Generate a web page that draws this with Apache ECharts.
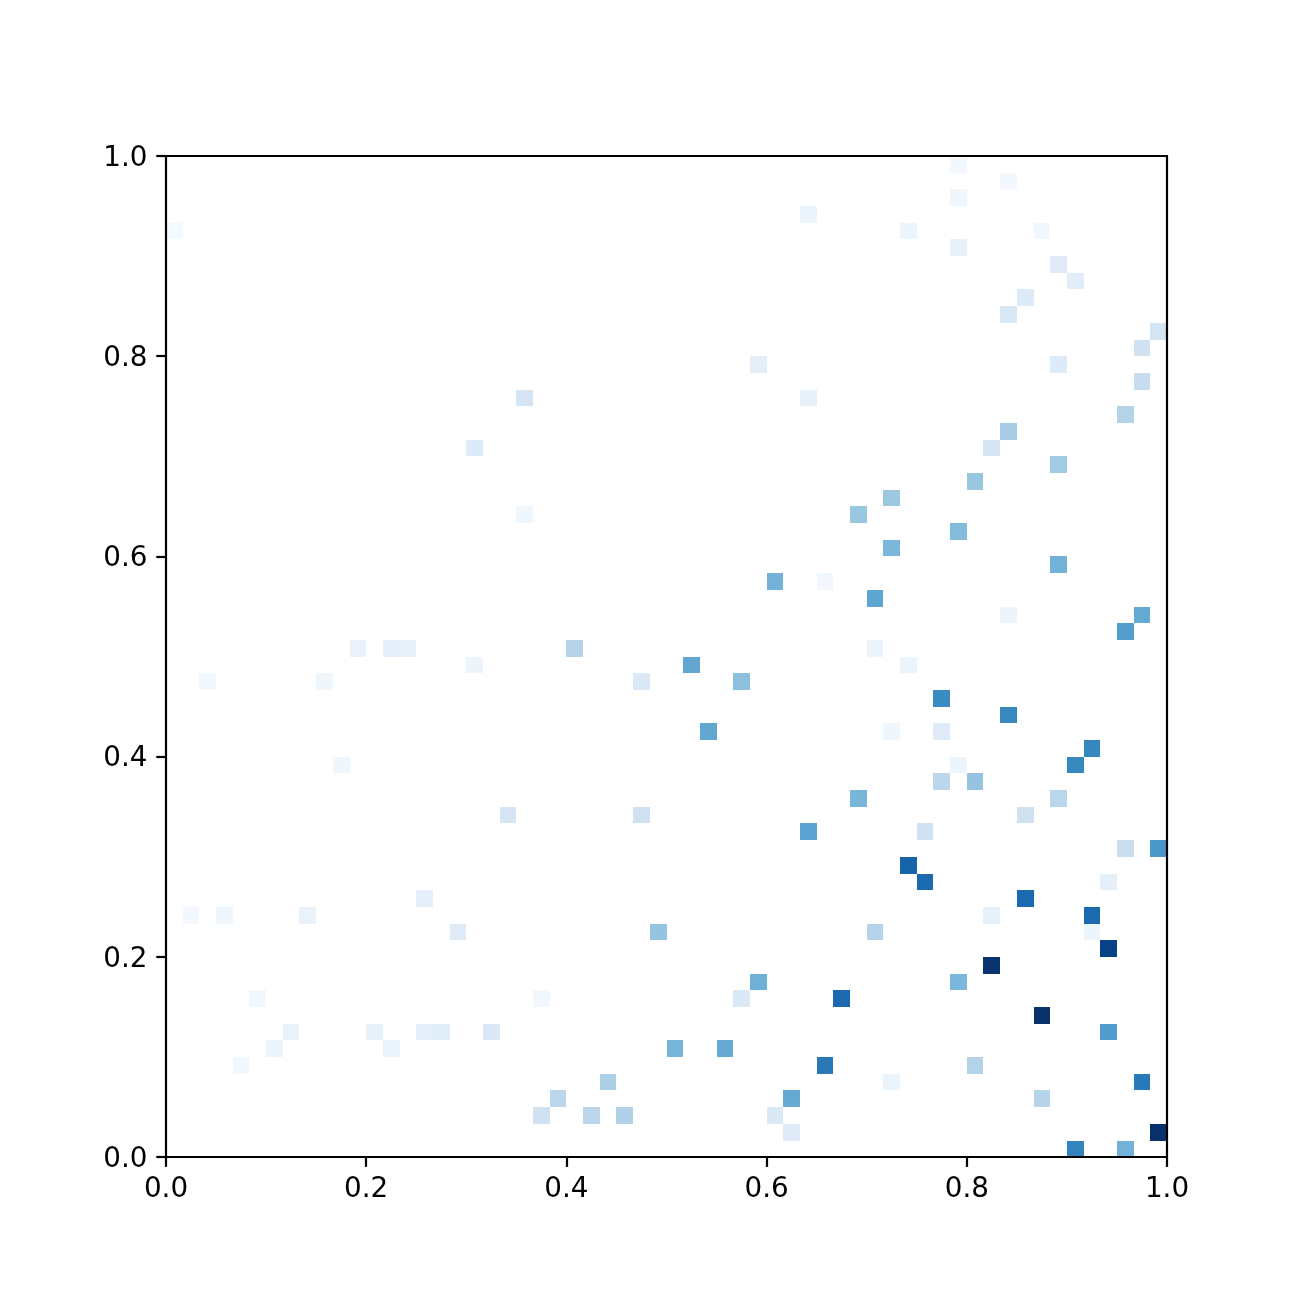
<!DOCTYPE html>
<html>
<head>
<meta charset="utf-8">
<title>2D histogram</title>
<script src="https://cdn.jsdelivr.net/npm/echarts@6/dist/echarts.min.js"></script>
<style>
html, body { margin: 0; padding: 0; background: #fff; }
#chart { width: 1300px; height: 1300px; }
</style>
</head>
<body>
<div id="chart"></div>
<script>
// histogram bins on a 60 x 60 grid, listed top to bottom
const binCount = 60;
const binCols = [0,47,50,47,38,44,52,47,53,54,51,50,59,58,35,53,58,21,38,57,50,18,49,53,48,43,21,41,47,43,53,36,39,42,50,58,57,
    11,13,14,24,42,18,31,44,2,9,28,34,46,50,32,43,46,55,10,47,54,46,48,41,53,20,28,51,38,45,57,59,44,45,56,15,51,
    1,3,8,49,55,17,29,42,55,56,49,35,47,5,22,34,40,52,7,12,15,16,19,56,6,13,30,33,4,39,48,26,43,58,23,37,52,22,25,27,36,37,59,54,57];
const binRows = [55,59,58,57,56,55,55,54,53,52,51,50,49,48,47,47,46,45,45,44,43,42,42,41,40,39,38,38,37,36,35,34,34,33,32,32,31,
    30,30,30,30,30,29,29,29,28,28,28,28,27,26,25,25,25,24,23,23,23,22,22,21,21,20,20,20,19,19,18,18,17,16,16,15,15,
    14,14,14,14,14,13,13,13,13,12,11,10,10,9,9,9,9,8,7,7,7,7,7,7,6,6,6,6,5,5,5,4,4,4,3,3,3,2,2,2,2,1,1,0,0];
const binValues = [.01,.02,.02,.04,.06,.05,.03,.08,.12,.11,.13,.15,.18,.2,.1,.13,.24,.17,.08,.31,.35,.13,.17,.37,.39,.38,.04,.39,.44,.46,.48,.48,.03,.54,.05,.52,.57,
    .07,.09,.08,.3,.05,.05,.53,.06,.02,.04,.14,.42,.65,.66,.53,.04,.12,.67,.04,.05,.66,.28,.4,.47,.29,.17,.21,.2,.55,.2,.23,.6,.8,.78,.09,.09,.78,
    .02,.04,.07,.08,.78,.12,.4,.3,.05,.93,.99,.49,.46,.03,.03,.14,.78,1,.07,.08,.09,.11,.14,.58,.06,.06,.47,.52,.02,.72,.31,.33,.06,.72,.28,.52,.3,.2,.28,.32,.14,.12,1,.68,.48];
const blues = ['#f7fbff','#deebf7','#c6dbef','#9ecae1','#6baed6','#4292c6','#2171b5','#08519c','#08306b'];

const binData = binValues.map(function (v, i) {
    return [binCols[i] / binCount, binRows[i] / binCount, v];
});

function renderBin(params, api) {
    // cell corners go through the axis scales
    const start = api.coord([api.value(0), api.value(1)]);
    const end = api.coord([api.value(0) + 1 / binCount, api.value(1) + 1 / binCount]);
    const x = Math.round(start[0]);
    const y = Math.round(end[1]);
    return {
        type: 'rect',
        shape: { x: x, y: y, width: Math.round(end[0]) - x, height: Math.round(start[1]) - y },
        style: { fill: api.visual('color') }
    };
}

const labelStyle = {
    show: true,
    color: '#000',
    fontFamily: 'DejaVu Sans',
    fontSize: 27.8,
    margin: 18.6,
    formatter: function (v) { return v.toFixed(1); },
    showMinLabel: true,
    showMaxLabel: true
};
const lineStyle = { show: true, onZero: false, lineStyle: { color: '#000', width: 2.2 } };
const tickStyle = { show: true, length: 9.7, lineStyle: { color: '#000', width: 2.2 } };

function mainAxis(position, labelExtra) {
    return {
        type: 'value', position: position, min: 0, max: 1, interval: 0.2, z: 5,
        splitLine: { show: false }, axisLine: lineStyle, axisTick: tickStyle,
        axisLabel: Object.assign({}, labelStyle, labelExtra)
    };
}
function frameAxis(position) {
    return {
        type: 'value', position: position, min: 0, max: 1, interval: 0.2, z: 5,
        splitLine: { show: false }, axisLine: lineStyle, axisTick: { show: false }, axisLabel: { show: false }
    };
}

const myChart = echarts.init(document.getElementById('chart'), null, { renderer: 'canvas' });
myChart.setOption({
    animation: false,
    backgroundColor: '#fff',
    grid: { left: 166, top: 156, width: 1001, height: 1001.2, containLabel: false },
    xAxis: [mainAxis('bottom', {}), frameAxis('top')],
    // small line box pushes the y labels down a little, as in the reference
    yAxis: [mainAxis('left', { verticalAlign: 'top', lineHeight: 5 }), frameAxis('right')],
    visualMap: {
        show: false, type: 'continuous', min: 0, max: 1, dimension: 2, seriesIndex: 0,
        inRange: { color: blues }
    },
    series: [{
        type: 'custom',
        renderItem: renderBin,
        coordinateSystem: 'cartesian2d',
        clip: true,
        encode: { x: 0, y: 1 },
        data: binData
    }]
});
</script>
</body>
</html>
